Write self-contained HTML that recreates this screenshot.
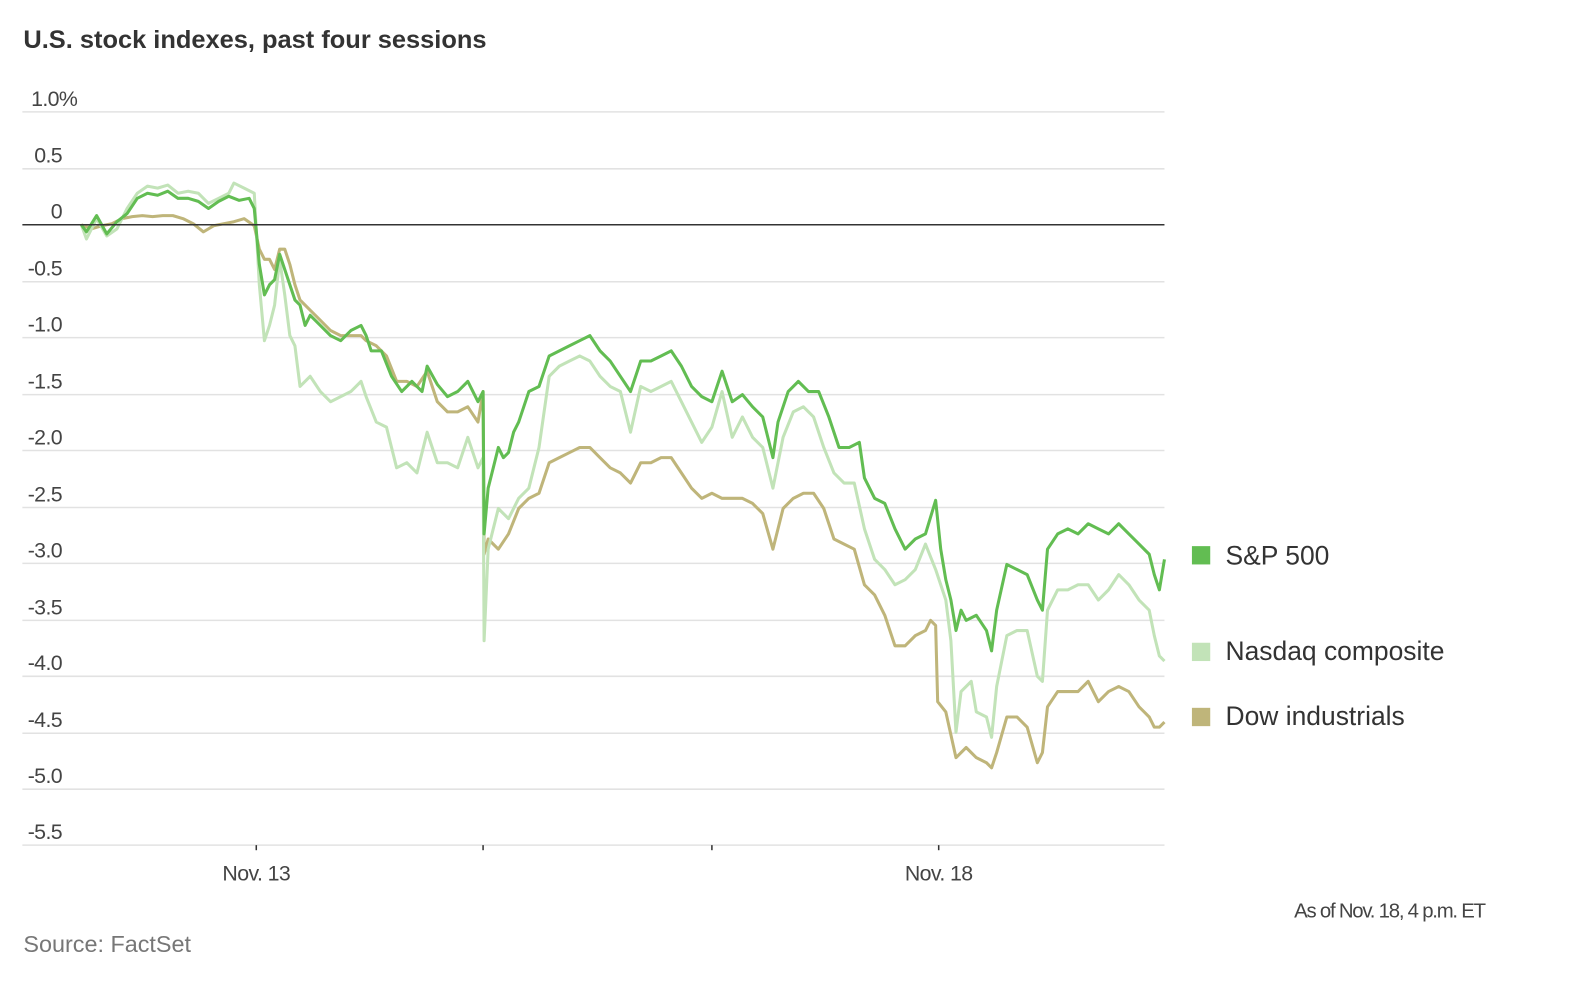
<!DOCTYPE html>
<html><head><meta charset="utf-8"><style>
html,body{margin:0;padding:0;background:#fff;width:1595px;height:981px;overflow:hidden}
#w{position:absolute;left:0;top:0;width:1570px;height:965px;transform:scale(1.017);transform-origin:0 0;font-family:"Liberation Sans",sans-serif}
</style></head><body><div id="w">
<svg width="1570" height="965" xmlns="http://www.w3.org/2000/svg" font-family="Liberation Sans, sans-serif">
<text x="23" y="47" font-size="25" font-weight="bold" fill="#333" letter-spacing="0">U.S. stock indexes, past four sessions</text>
<g stroke="#e2e2e2" stroke-width="1.5">
<line x1="22" x2="1145" y1="110" y2="110"/><line x1="22" x2="1145" y1="166" y2="166"/>
<line x1="22" x2="1145" y1="277" y2="277"/><line x1="22" x2="1145" y1="332" y2="332"/>
<line x1="22" x2="1145" y1="388" y2="388"/><line x1="22" x2="1145" y1="443" y2="443"/>
<line x1="22" x2="1145" y1="499" y2="499"/><line x1="22" x2="1145" y1="554" y2="554"/>
<line x1="22" x2="1145" y1="610" y2="610"/><line x1="22" x2="1145" y1="665" y2="665"/>
<line x1="22" x2="1145" y1="721" y2="721"/><line x1="22" x2="1145" y1="776" y2="776"/>
<line x1="22" x2="1145" y1="831" y2="831"/>
</g>
<g stroke="#333" stroke-width="1.5"><line x1="252" x2="252" y1="831" y2="836"/><line x1="475" x2="475" y1="831" y2="836"/><line x1="700" x2="700" y1="831" y2="836"/><line x1="923" x2="923" y1="831" y2="836"/></g>
<g font-size="21" fill="#444" text-anchor="end" letter-spacing="-0.6">
<text x="76" y="104">1.0%</text><text x="61" y="160">0.5</text><text x="61" y="215">0</text>
<text x="61" y="271">-0.5</text><text x="61" y="326">-1.0</text><text x="61" y="382">-1.5</text>
<text x="61" y="437">-2.0</text><text x="61" y="493">-2.5</text><text x="61" y="548">-3.0</text>
<text x="61" y="604">-3.5</text><text x="61" y="659">-4.0</text><text x="61" y="715">-4.5</text>
<text x="61" y="770">-5.0</text><text x="61" y="825">-5.5</text>
</g>
<g font-size="21" fill="#444" text-anchor="middle" letter-spacing="-0.6"><text x="252" y="866">Nov. 13</text><text x="923" y="866">Nov. 18</text></g>
<g fill="none" stroke-width="3" stroke-linejoin="round">
<polyline stroke="#bfb57a" points="80,221 90,225 100,222 110,220 120,215 130,213 140,212 150,213 160,212 170,212 180,215 190,220 200,228 210,222 220,220 230,218 240,215 250,222 255,245 260,255 265,255 270,265 275,245 280,245 285,260 290,280 295,295 305,305 315,315 325,325 335,330 345,330 355,330 360,335 370,340 380,350 390,375 400,375 410,380 420,365 430,395 440,405 450,405 460,400 470,415 475,385 476,545 480,530 490,540 500,525 510,500 520,490 530,485 540,455 550,450 560,445 570,440 580,440 590,450 600,460 610,465 620,475 630,455 640,455 650,450 660,450 670,465 680,480 690,490 700,485 710,490 720,490 730,490 740,495 750,505 760,540 770,500 780,490 790,485 800,485 810,500 820,530 830,535 840,540 850,575 860,585 870,605 880,635 890,635 900,625 910,620 915,610 920,615 922,690 930,700 940,745 950,735 960,745 970,750 975,755 980,740 990,705 1000,705 1010,715 1020,750 1025,740 1030,695 1040,680 1050,680 1060,680 1070,670 1080,690 1090,680 1100,675 1110,680 1120,695 1130,705 1135,715 1140,715 1145,710"/>
<polyline stroke="#c2e3b8" points="80,221 85,235 95,215 105,232 115,225 125,205 135,190 145,183 155,185 165,182 175,190 185,188 195,190 205,200 215,195 225,190 230,180 240,185 250,190 255,280 260,335 265,320 270,300 275,255 280,290 285,330 290,340 295,380 305,370 315,385 325,395 335,390 345,385 355,375 360,390 370,415 380,420 390,460 400,455 410,465 420,425 430,455 440,455 450,460 460,430 470,460 475,450 476,630 480,540 490,500 500,510 510,490 520,480 530,440 540,370 550,360 560,355 570,350 580,355 590,370 600,380 610,385 620,425 630,380 640,385 650,380 660,375 670,395 680,415 690,435 700,420 710,385 720,430 730,410 740,430 750,440 760,480 770,430 780,405 790,400 800,410 810,440 820,465 830,475 840,475 850,520 860,550 870,560 880,575 890,570 900,560 910,535 920,560 925,575 930,590 935,630 940,720 945,680 955,670 960,700 970,705 975,725 980,675 990,625 1000,620 1010,620 1020,665 1025,670 1030,600 1040,580 1050,580 1060,575 1070,575 1080,590 1090,580 1100,565 1110,575 1120,590 1130,600 1135,625 1140,645 1145,650"/>
<polyline stroke="#62bd52" points="80,221 85,228 95,212 105,230 115,218 125,210 135,195 145,190 155,192 165,188 175,195 185,195 195,198 205,205 215,198 225,193 235,197 245,195 250,205 255,260 260,290 265,280 270,275 275,250 280,265 285,280 290,295 295,300 300,320 305,310 315,320 325,330 335,335 345,325 355,320 360,330 365,345 375,345 385,370 395,385 405,375 415,385 420,360 430,378 440,390 450,385 460,375 470,395 475,385 476,525 480,480 485,460 490,440 495,450 500,445 505,425 510,415 515,400 520,385 530,380 540,350 550,345 560,340 570,335 580,330 590,345 600,355 610,370 620,385 630,355 640,355 650,350 660,345 670,360 680,380 690,390 700,395 710,365 720,395 730,388 740,400 750,410 760,450 765,415 775,385 785,375 795,385 805,385 815,410 825,440 835,440 845,435 850,470 860,490 870,495 880,520 890,540 900,530 910,525 920,492 925,540 930,570 935,590 940,620 945,600 950,610 960,605 970,620 975,640 980,600 990,555 1000,560 1010,565 1020,590 1025,600 1030,540 1040,525 1050,520 1060,525 1070,515 1080,520 1090,525 1100,515 1110,525 1120,535 1130,545 1135,565 1140,580 1145,550"/>
</g>
<line x1="22" x2="1145" y1="221" y2="221" stroke="#333" stroke-width="1.5"/>
<rect x="1172" y="537" width="18" height="18" fill="#62bd52"/>
<rect x="1172" y="632" width="18" height="18" fill="#c2e3b8"/>
<rect x="1172" y="696" width="18" height="18" fill="#bfb57a"/>
<g font-size="26" fill="#333"><text x="1205" y="555">S&amp;P 500</text><text x="1205" y="649">Nasdaq composite</text><text x="1205" y="713">Dow industrials</text></g>
<text x="1460" y="902" font-size="20" fill="#444" text-anchor="end" letter-spacing="-1.2">As of Nov. 18, 4 p.m. ET</text>
<text x="23" y="936" font-size="23" fill="#777" letter-spacing="0">Source: FactSet</text>
</svg></div></body></html>
